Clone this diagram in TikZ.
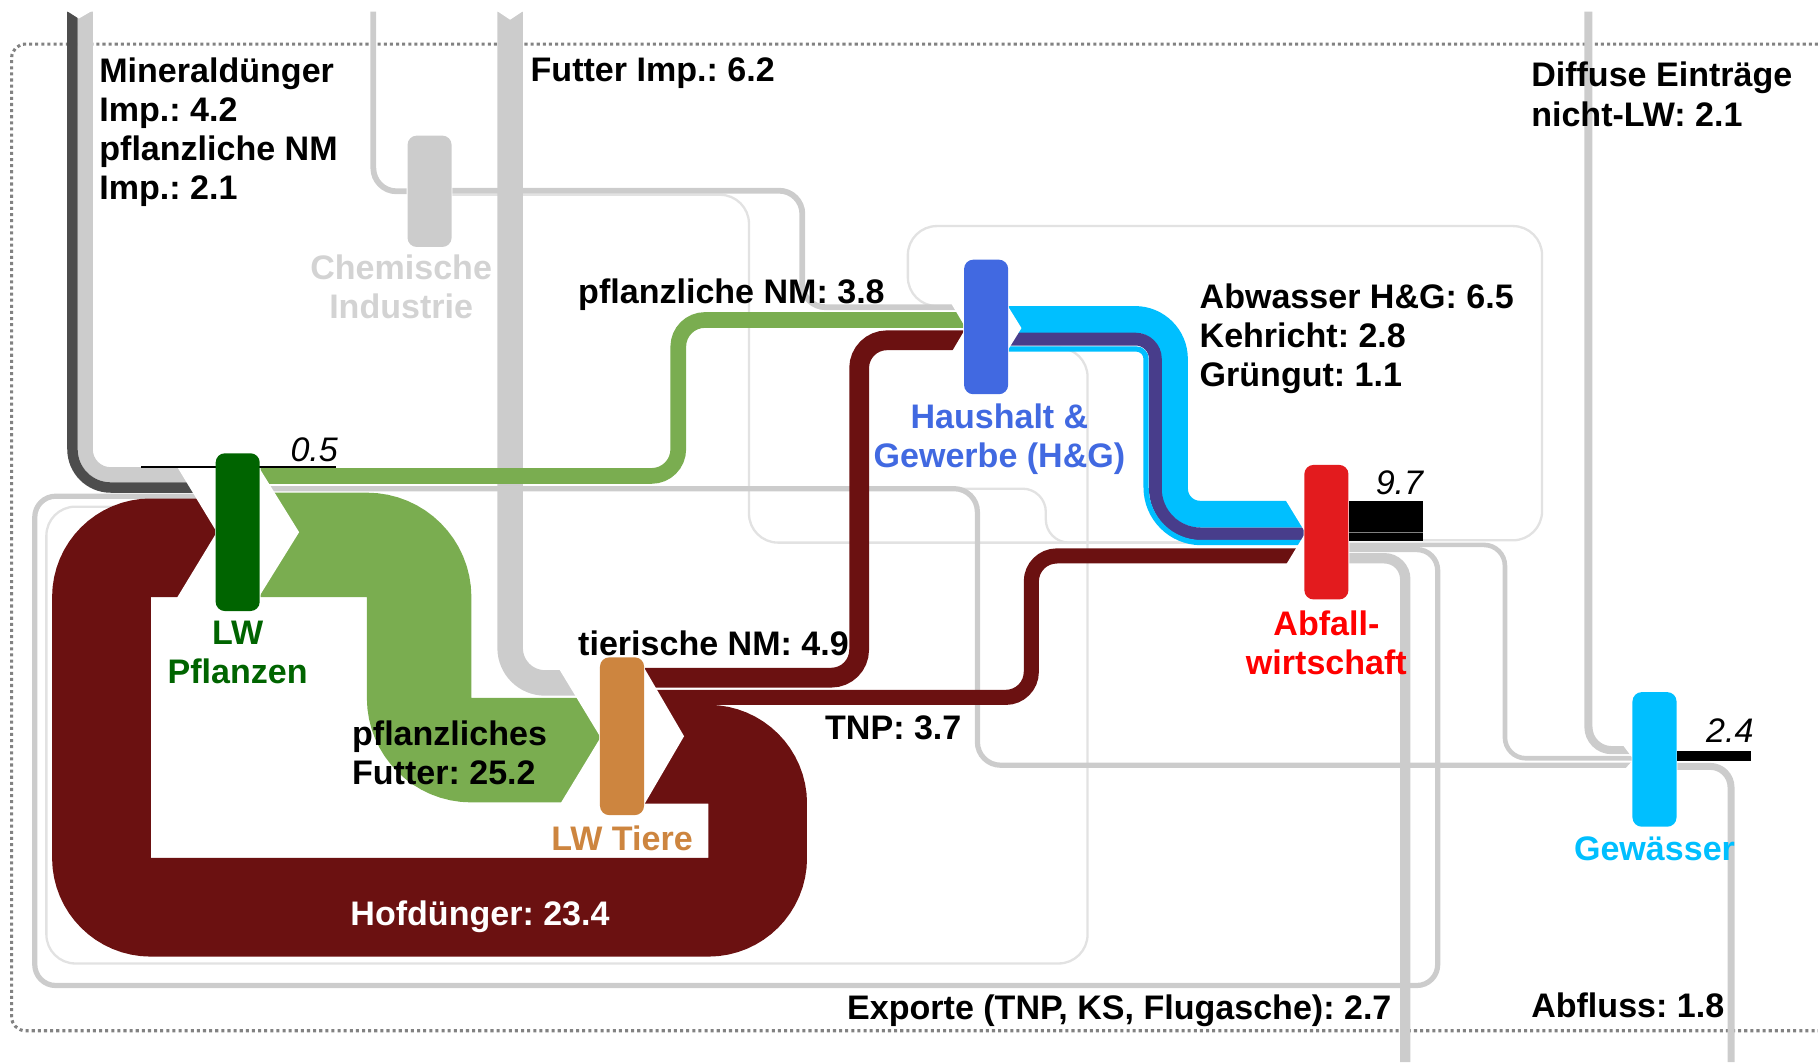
\documentclass[tikz,border=0pt]{standalone}
\usepackage{fontspec}
\setmainfont{Liberation Sans}
\usetikzlibrary{positioning}

\definecolor{hofrot}{RGB}{107,17,17}
\definecolor{pflgruen}{RGB}{122,173,80}
\definecolor{lwgruen}{RGB}{0,100,0}
\definecolor{tierbraun}{RGB}{205,133,63}
\definecolor{chemgrau}{RGB}{204,204,204}
\definecolor{chemtext}{RGB}{211,211,211}
\definecolor{flussgrau}{RGB}{204,204,204}
\definecolor{dunkelgrau}{RGB}{77,77,77}
\definecolor{hgblau}{RGB}{65,105,225}
\definecolor{abfallrot}{RGB}{227,27,30}
\definecolor{wasserblau}{RGB}{0,191,255}
\definecolor{kehrichtlila}{RGB}{72,61,139}
\definecolor{blassgrau}{RGB}{226,226,226}
\definecolor{randgrau}{RGB}{130,130,130}

\pgfdeclarelayer{fluss}
\pgfsetlayers{fluss,main}

\tikzset{
  knoten/.style={rounded corners=0.08cm, minimum width=0.38cm, inner sep=0},
  beschrift/.style={font=\fontsize{8.35}{9.6}\selectfont\bfseries, inner sep=0, align=center},
  wert/.style={font=\fontsize{8.35}{9.6}\selectfont\bfseries, inner sep=0, align=left, anchor=north west},
  lager/.style={font=\fontsize{8.35}{9.6}\selectfont\itshape, inner sep=0},
  fluss/.style={line cap=butt},
  blass/.style={draw=blassgrau, line width=0.02cm, rounded corners=0.25cm},
}

\frenchspacing
\begin{document}
\begin{tikzpicture}[x=0.01cm, y=-0.01cm]
\useasboundingbox (0,0) rectangle (1568,916);

\node[knoten, fill=lwgruen, minimum height=1.36cm] (lwp) at (205,459) {};
\node[knoten, fill=tierbraun, minimum height=1.36cm] (lwt) at (536.5,635) {};
\node[knoten, fill=chemgrau, minimum height=0.96cm] (chem) at (370.5,165) {};
\node[knoten, fill=hgblau, minimum height=1.16cm] (hg) at (850.5,282) {};
\node[knoten, fill=abfallrot, minimum height=1.16cm] (abf) at (1144,459) {};
\node[knoten, fill=wasserblau, minimum height=1.16cm] (gew) at (1427,655) {};

\node[beschrift, text=lwgruen, below=0.075cm of lwp] (lwpname) {LW\\Pflanzen};
\node[beschrift, text=tierbraun, below=0.075cm of lwt] (lwtname) {LW Tiere};
\node[beschrift, text=chemtext, below=0.055cm of chem, xshift=-0.245cm] (chemname) {Chemische\\Industrie};
\node[beschrift, text=hgblau, below=0.065cm of hg, xshift=0.115cm] (hgname) {Haushalt \&\\Gewerbe (H\&G)};
\node[beschrift, text=red, below=0.085cm of abf] (abfname) {Abfall-\\wirtschaft};
\node[beschrift, text=wasserblau, below=0.075cm of gew] (gewname) {Gewässer};

\coordinate (mdimp) at (73.5,10);
\coordinate (nmimp) at (62.5,10);
\coordinate (futimp) at (440,10);
\coordinate (chemimp) at (322,10);
\coordinate (difimp) at (1370,10);
\coordinate (export) at (1212,916);
\coordinate (abfluss) at (1493,916);

\begin{pgfonlayer}{fluss}
\draw[randgrau, line width=0.75pt, dash pattern=on 0.75pt off 0.75pt, rounded corners=0.12cm]
    (1568,38) -- (10,38) -- (10,889) -- (1568,889);

\draw[blass] (abf.east |- 0,466) -- (1330,466) -- (1330,195) -- (783,195) -- (783,264) -- (hg.west |- 0,264);
\draw[blass] (chem.east |- 0,168) -- (646,168) -- (646,468) -- (abf.west |- 0,468);
\draw[blass, rounded corners=0.2cm] (lwp.east |- 0,421.5) -- (902,421.5) -- (902,468) -- (abf.west |- 0,468);
\draw[blass] (hg.east |- 0,300) -- (938,300) -- (938,831) -- (40,831) -- (40,437) -- (lwp.west |- 0,437);

\draw[fluss, flussgrau, line width=0.05cm, rounded corners=0.2cm] (chemimp) -- (322,165) -- (chem.west |- 0,165);
\draw[fluss, flussgrau, line width=0.05cm, rounded corners=0.2cm] (chem.east |- 0,164.5) -- (692,164.5) -- (692,265) -- (hg.west |- 0,265);
\draw[fluss, flussgrau, line width=0.045cm, rounded corners=0.2cm] (lwp.east |- 0,421.5) -- (843,421.5) -- (843,660) -- (gew.west |- 0,660);
\draw[fluss, flussgrau, line width=0.04cm, rounded corners=0.18cm] (abf.east |- 0,470) -- (1298,470) -- (1298,654) -- (gew.west |- 0,654);
\draw[fluss, flussgrau, line width=0.045cm, rounded corners=0.18cm] (abf.east |- 0,474) -- (1240,474) -- (1240,850) -- (30,850) -- (30,428) -- (lwp.west |- 0,428);
\draw[fluss, flussgrau, line width=0.09cm, rounded corners=0.18cm] (abf.east |- 0,481.5) -- (1212,481.5) -- (export);
\draw[fluss, flussgrau, line width=0.07cm, rounded corners=0.2cm] (difimp) -- (1370,647) -- (gew.west |- 0,647);
\draw[fluss, flussgrau, line width=0.06cm, rounded corners=0.18cm] (gew.east |- 0,661) -- (1493,661) -- (abfluss);
\draw[fluss, flussgrau, line width=0.22cm, rounded corners=0.3cm] (futimp) -- (440,589) -- (lwt.west |- 0,589);
\draw[fluss, flussgrau, line width=0.13cm, rounded corners=0.22cm] (mdimp) -- (73.5,409.5) -- (lwp.west |- 0,409.5);
\draw[fluss, dunkelgrau, line width=0.09cm, rounded corners=0.33cm] (nmimp) -- (62.5,420.5) -- (lwp.west |- 0,420.5);

\draw[fluss, hofrot, line width=0.85cm, rounded corners=0.425cm] (lwt.east |- 0,650.5) -- (653.5,650.5)
    -- (653.5,782.5) -- (87.5,782.5) -- (87.5,472.5) -- (lwp.west |- 0,472.5);
\draw[fluss, pflgruen, line width=0.9cm, rounded corners=0.45cm] (lwp.east |- 0,470) -- (361.5,470)
    -- (361.5,647) -- (lwt.west |- 0,647);
\draw[fluss, pflgruen, line width=0.135cm, rounded corners=0.23cm] (lwp.east |- 0,410.5) -- (585,410.5)
    -- (585,276) -- (hg.west |- 0,276);
\draw[fluss, hofrot, line width=0.17cm, rounded corners=0.24cm] (lwt.east |- 0,584.5) -- (741,584.5)
    -- (741,293.5) -- (hg.west |- 0,293.5);
\draw[fluss, hofrot, line width=0.13cm, rounded corners=0.22cm] (lwt.east |- 0,601.5) -- (889.5,601.5)
    -- (889.5,479.5) -- (abf.west |- 0,479.5);
\draw[fluss, wasserblau, line width=0.23cm, rounded corners=0.34cm] (hg.east |- 0,275.5) -- (1013,275.5)
    [rounded corners=0.22cm] -- (1013,443.5) -- (abf.west |- 0,443.5);
\draw[fluss, kehrichtlila, line width=0.11cm, rounded corners=0.17cm] (hg.east |- 0,292.5) -- (996.5,292.5)
    [rounded corners=0.39cm] -- (996.5,460.5) -- (abf.west |- 0,460.5);
\draw[fluss, wasserblau, line width=0.045cm, rounded corners=0.085cm] (hg.east |- 0,301) -- (988.5,301)
    [rounded corners=0.475cm] -- (988.5,468) -- (abf.west |- 0,468);

\fill[white] (57,9) -- (80,9) -- (68,16) -- cycle;
\fill[white] (428,9) -- (452,9) -- (440,17) -- cycle;
\fill[white] (151.2,400) -- (187,400) -- (187,459) -- cycle;
\fill[white] (151.2,518) -- (187,518) -- (187,459) -- cycle;
\fill[white] (222,401) -- (258,459) -- (222,517) -- cycle;
\fill[white] (481,575) -- (518,575) -- (518,636) -- cycle;
\fill[white] (481,697) -- (518,697) -- (518,636) -- cycle;
\fill[white] (555,575) -- (590,635) -- (555,695) -- cycle;
\fill[white] (820,261) -- (833,261) -- (833,283) -- cycle;
\fill[white] (820,305) -- (833,305) -- (833,283) -- cycle;
\fill[white] (868,262) -- (881,283) -- (868,304) -- cycle;
\fill[white] (1108,430) -- (1126,430) -- (1126,459.5) -- cycle;
\fill[white] (1108,489) -- (1126,489) -- (1126,459.5) -- cycle;
\fill[white] (1400,643) -- (1409,643) -- (1409,655) -- cycle;
\fill[white] (1400,665) -- (1409,665) -- (1409,655) -- cycle;

\draw[black, line width=0.015cm] (122,403) -- (290,403);
\fill[black] (abf.east |- 0,432) rectangle (1227,467);
\draw[gray, line width=0.01cm] (abf.east |- 0,459) -- (1227,459);
\fill[black] (gew.east |- 0,648) rectangle (1510,656);
\end{pgfonlayer}

\node[lager] (lagerlwp) at (271,388) {0.5};
\node[lager] (lagerabf) at (1207,416) {9.7};
\node[lager] (lagergew) at (1492,630) {2.4};

\node[wert] (mdtext) at (85,49) {Mineraldünger\\Imp.: 4.2\\pflanzliche NM\\Imp.: 2.1};
\node[wert] (futtext) at (457,49) {Futter Imp.: 6.2};
\node[wert] (diftext) at (1320,53) {Diffuse Einträge\\nicht-LW: 2.1};
\node[wert] (pnmtext) at (498,240) {pflanzliche NM: 3.8};
\node[wert] (hgtext) at (1034,244) {Abwasser H\&G: 6.5\\Kehricht: 2.8\\Grüngut: 1.1};
\node[wert] (tnmtext) at (498,543) {tierische NM: 4.9};
\node[wert] (tnptext) at (711,617) {TNP: 3.7};
\node[wert] (pftext) at (303,621) {pflanzliches\\Futter: 25.2};
\node[wert, anchor=center, text=white] (hoftext) at (414,791) {Hofdünger: 23.4};
\node[wert] (exptext) at (730,857) {Exporte (TNP, KS, Flugasche): 2.7};
\node[wert] (abftext) at (1320,856) {Abfluss: 1.8};
\end{tikzpicture}
\end{document}
